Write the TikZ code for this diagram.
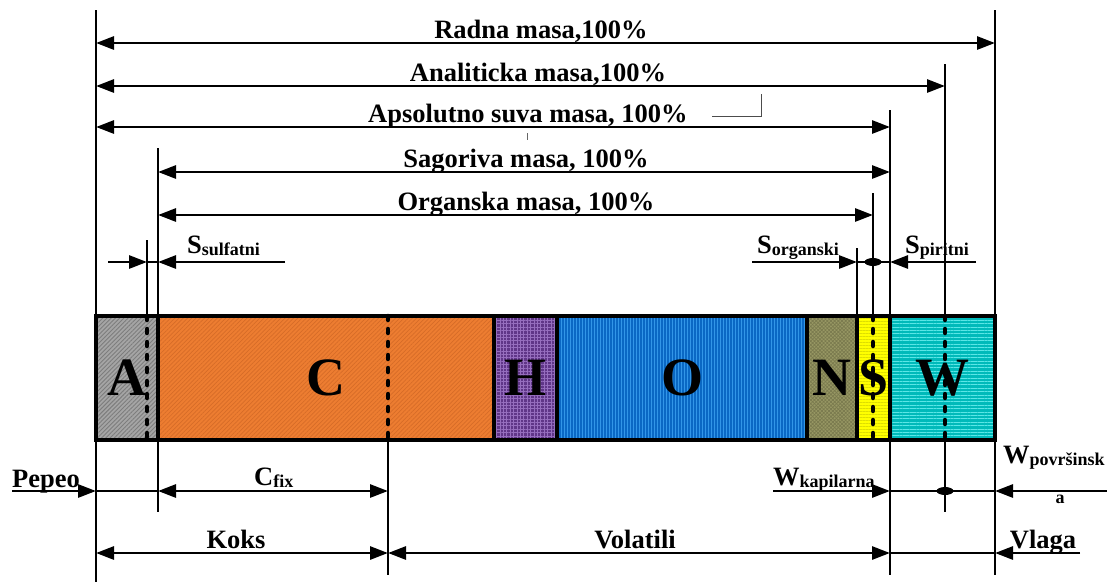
\documentclass[tikz,border=0pt]{standalone}
\usepackage{fontspec}
\setmainfont{Liberation Serif}
\usetikzlibrary{positioning,arrows.meta,patterns.meta,shapes.geometric}

\definecolor{ashA}{RGB}{165,165,165}
\definecolor{ashAl}{RGB}{125,125,125}
\definecolor{carbC}{RGB}{237,125,49}
\definecolor{carbCl}{RGB}{214,108,40}
\definecolor{hydH}{RGB}{96,54,136}
\definecolor{hydHl}{RGB}{150,110,190}
\definecolor{oxyO}{RGB}{10,104,196}
\definecolor{oxyOl}{RGB}{50,150,232}
\definecolor{nitN}{RGB}{152,152,100}
\definecolor{nitNl}{RGB}{122,122,78}
\definecolor{sulS}{RGB}{255,255,0}
\definecolor{sulSl}{RGB}{222,222,0}
\definecolor{watW}{RGB}{0,186,186}
\definecolor{watWl}{RGB}{90,230,230}

\newcommand{\lowtxt}[1]{\raisebox{-2pt}{\fontsize{18}{18}\selectfont #1}}

\tikzset{
  >={Triangle[length=18pt,width=13pt]},
  seg/.style={draw, line width=3.5pt, minimum height=124pt, inner sep=0pt, outer sep=0pt,
    font=\fontsize{54}{54}\selectfont\bfseries},
  segA/.style={minimum width=62pt, preaction={fill=ashA},
    preaction={pattern={Lines[angle=45,distance=3pt,line width=0.9pt]}, pattern color=ashAl}},
  segC/.style={minimum width=336pt, preaction={fill=carbC},
    preaction={pattern={Lines[angle=45,distance=3pt,line width=0.7pt]}, pattern color=carbCl}},
  segH/.style={minimum width=63pt, preaction={fill=hydH},
    preaction={pattern={Hatch[angle=0,distance=3.4pt,line width=0.6pt]}, pattern color=hydHl}},
  segO/.style={minimum width=250pt, preaction={fill=oxyO},
    preaction={pattern={Lines[angle=90,distance=3pt,line width=0.9pt]}, pattern color=oxyOl}},
  segN/.style={minimum width=50pt, preaction={fill=nitN},
    preaction={pattern={Hatch[angle=45,distance=2.6pt,line width=0.7pt]}, pattern color=nitNl}},
  segS/.style={minimum width=33pt, preaction={fill=sulS},
    preaction={pattern={Lines[angle=0,distance=3pt,line width=0.5pt]}, pattern color=sulSl}},
  segW/.style={minimum width=105pt, preaction={fill=watW},
    preaction={pattern={Lines[angle=0,distance=3.4pt,line width=0.8pt]}, pattern color=watWl}},
  dotln/.style={line width=4.5pt, dash pattern=on 4pt off 9pt, line cap=round},
  guide/.style={line width=1.4pt},
  dim/.style={line width=2.8pt},
  blob/.style={ellipse, fill=black, minimum width=17pt, minimum height=8pt, inner sep=0pt},
  lbl/.style={font=\fontsize{26.5}{30}\selectfont\bfseries, inner sep=0pt, anchor=base}
}

\begin{document}
\begin{tikzpicture}[x=1pt,y=-1pt]
\useasboundingbox (0,0) rectangle (1107,582);

\node[seg,segA] (A) at (127,378) {A};
\node[seg,segC] (C) [right=0pt of A] {C};
\node[seg,segH] (H) [right=0pt of C] {H};
\node[seg,segO] (O) [right=0pt of H] {O};
\node[seg,segN] (N) [right=0pt of O] {N};
\node[seg,segS] (S) [right=0pt of N] {S};
\node[seg,segW] (W) [right=0pt of S] {W};

\coordinate (dA) at (147,316);
\coordinate (dC) at (388,316);
\coordinate (dS) at (873,316);
\coordinate (dW) at (945,316);
\draw[dotln] (dA) -- (dA |- A.south);
\draw[dotln] (dC) -- (dC |- A.south);
\draw[dotln] (dS) -- (dS |- A.south);
\draw[dotln] (dW) -- (dW |- A.south);

\draw[guide] (A.north west) -- ++(0,-306);
\draw[guide] (A.south west) -- ++(0,142);
\draw[guide] (dA) -- ++(0,-76);
\draw[guide] (A.north east) -- ++(0,-168);
\draw[guide] (A.south east) -- ++(0,72);
\draw[guide] (dC |- A.south) -- ++(0,135);
\draw[guide] (N.north east) -- ++(0,-68);
\draw[guide] (dS) -- ++(0,-123);
\draw[guide] (S.north east) -- ++(0,-206);
\draw[guide] (S.south east) -- ++(0,135);
\draw[guide] (dW) -- ++(0,-252);
\draw[guide] (dW |- A.south) -- ++(0,72);
\draw[guide] (W.north east) -- ++(0,-306);
\draw[guide] (W.south east) -- ++(0,135);

\coordinate (r1) at (0,43);
\coordinate (r2) at (0,86);
\coordinate (r3) at (0,127);
\coordinate (r4) at (0,172);
\coordinate (r5) at (0,215);
\draw[dim,<->] (A.west |- r1) -- (W.east |- r1);
\draw[dim,<->] (A.west |- r2) -- (dW |- r2);
\draw[dim,<->] (A.west |- r3) -- (S.east |- r3);
\draw[dim,<->] (A.east |- r4) -- (S.east |- r4);
\draw[dim,<->] (A.east |- r5) -- (dS |- r5);

\node[lbl] (radna) at (541,38) {Radna masa,100\%};
\node[lbl] (anal) at (538,81) {Analiticka masa,100\%};
\node[lbl] (apso) at (528,122) {Apsolutno suva masa, 100\%};
\node[lbl] (sago) at (526,167) {Sagoriva masa, 100\%};
\node[lbl] (orga) at (526,210) {Organska masa, 100\%};
\draw[line width=0.8pt, black!70] (712,116) -- (761,116) -- (761,94);
\draw[line width=0.8pt, black!60] (527,133) -- (527,140);

\coordinate (sulfL) at (108,262);
\coordinate (sulfR) at (285,262);
\coordinate (orgL) at (752,262);
\coordinate (pirR) at (976,262);
\draw[dim,->] (sulfL) -- (dA |- sulfL);
\draw[dim] (dA |- sulfL) -- (A.east |- sulfL);
\draw[dim,->] (sulfR) -- (A.east |- sulfR);
\draw[dim,->] (orgL) -- (N.east |- orgL);
\draw[dim] (N.east |- orgL) -- (S.east |- orgL);
\node[blob] (dotS) at (dS |- orgL) {};
\draw[dim,->] (pirR) -- (S.east |- pirR);
\node[lbl,anchor=base west] (ssulf) at (187,253) {S\lowtxt{sulfatni}};
\node[lbl,anchor=base west] (sorg) at (757,253) {S\lowtxt{organski}};
\node[lbl,anchor=base west] (spir) at (905,253) {S\lowtxt{piritni}};

\coordinate (pepT) at (12,491);
\coordinate (kapT) at (773,491);
\coordinate (povT) at (1107,491);
\coordinate (vlaT) at (1080,553);
\draw[dim,->] (pepT) -- (A.west |- pepT);
\draw[dim] (A.west |- pepT) -- (A.east |- pepT);
\draw[dim,<->] (A.east |- pepT) -- (dC |- pepT);
\draw[dim,->] (kapT) -- (S.east |- kapT);
\draw[dim] (S.east |- kapT) -- (W.east |- kapT);
\node[blob] (dotW) at (dW |- kapT) {};
\draw[dim,->] (povT) -- (W.east |- povT);
\draw[dim,<->] (A.west |- vlaT) -- (dC |- vlaT);
\draw[dim,<->] (dC |- vlaT) -- (S.east |- vlaT);
\draw[dim] (S.east |- vlaT) -- (W.east |- vlaT);
\draw[dim,->] (vlaT) -- (W.east |- vlaT);

\node[lbl,anchor=base west] (pepeo) at (12,487) {Pepeo};
\node[lbl,anchor=base west] (cfix) at (254,485) {C\lowtxt{fix}};
\node[lbl,anchor=base west] (wkap) at (773,485) {W\lowtxt{kapilarna}};
\node[lbl,anchor=base west] (wpov) at (1003,463) {W\lowtxt{površinsk}};
\node[lbl] (wpova) at (1060,503) {\fontsize{18}{18}\selectfont a};
\node[lbl] (koks) at (236,548) {Koks};
\node[lbl] (vola) at (635,548) {Volatili};
\node[lbl] (vlaga) at (1043,548) {Vlaga};
\end{tikzpicture}
\end{document}
